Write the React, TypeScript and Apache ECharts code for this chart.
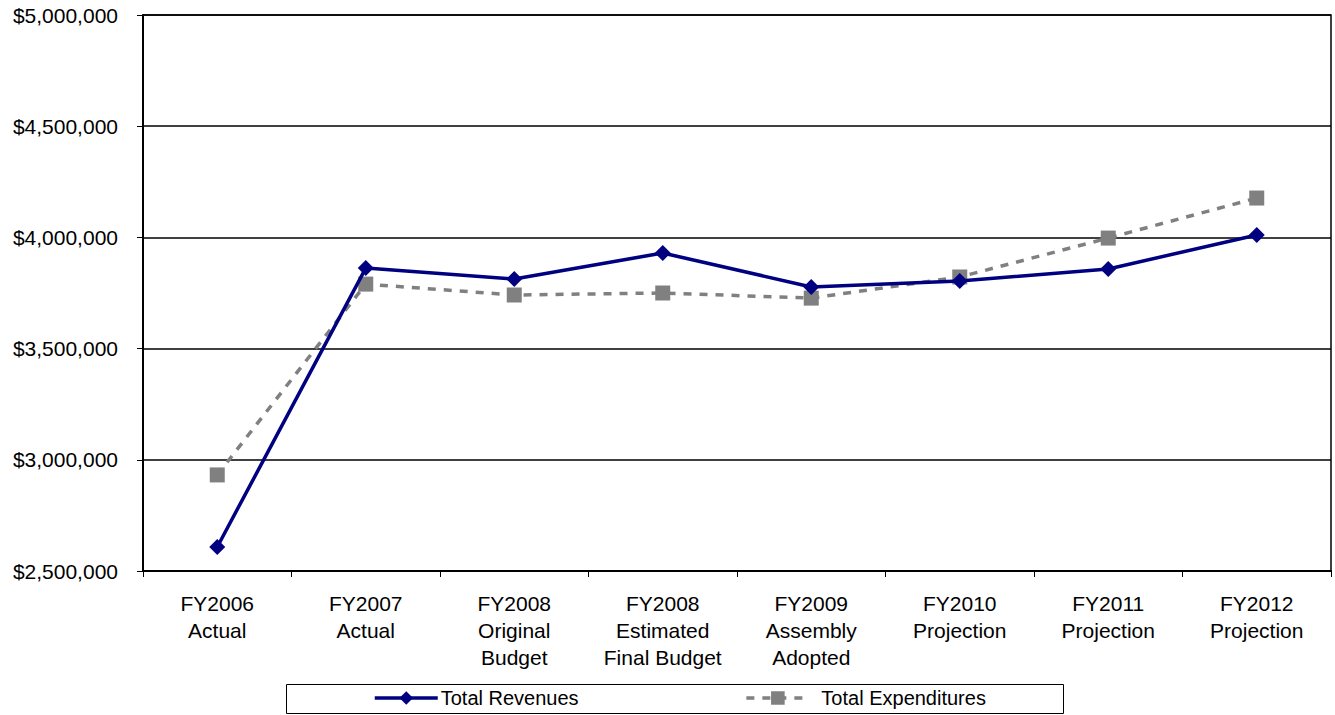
import React, { useEffect, useRef } from "react";
import * as echarts from "echarts";

const categories = [
  "FY2006\nActual",
  "FY2007\nActual",
  "FY2008\nOriginal\nBudget",
  "FY2008\nEstimated\nFinal Budget",
  "FY2009\nAssembly\nAdopted",
  "FY2010\nProjection",
  "FY2011\nProjection",
  "FY2012\nProjection",
];

const totalRevenues = [2608000, 3862000, 3813000, 3930000, 3777000, 3804000, 3858000, 4011000];
const totalExpenditures = [2932000, 3790000, 3741000, 3750000, 3727000, 3822000, 3997000, 4177000];

const yTicks = { min: 2500000, max: 5000000, interval: 500000 };

const FONT = "'Liberation Sans', Arial, sans-serif";

const fmtMoney = (v: number) => "$" + v.toLocaleString("en-US");

export default function App() {
  const ref = useRef<HTMLDivElement>(null);

  useEffect(() => {
    document.body.style.margin = "0";
    document.body.style.overflow = "hidden";
    if (!ref.current) return;
    const chart = echarts.init(ref.current, null, { renderer: "svg" });
    chart.setOption({
      animation: false,
      backgroundColor: "#ffffff",
      grid: {
        left: 143,
        right: 4,
        top: 15,
        bottom: 144,
        show: true,
        borderColor: "#000000",
        borderWidth: 1.5,
        containLabel: false,
      },
      xAxis: {
        type: "category",
        data: categories,
        boundaryGap: true,
        axisLine: { lineStyle: { color: "#000000", width: 2 } },
        axisTick: { show: true, length: 6, lineStyle: { color: "#000000", width: 1 } },
        axisLabel: {
          color: "#000000",
          fontFamily: FONT,
          fontSize: 21,
          lineHeight: 27,
          margin: 19,
          interval: 0,
          align: "center",
        },
      },
      yAxis: {
        type: "value",
        min: yTicks.min,
        max: yTicks.max,
        interval: yTicks.interval,
        axisLine: { show: true, lineStyle: { color: "#000000", width: 2 } },
        axisTick: { show: true, length: 6, lineStyle: { color: "#000000", width: 1 } },
        splitLine: { show: true, lineStyle: { color: "#000000", width: 1.5 } },
        axisLabel: {
          color: "#000000",
          fontFamily: FONT,
          fontSize: 21,
          margin: 25,
          formatter: (v: number) => fmtMoney(v),
        },
      },
      graphic: [
        {
          type: "rect",
          left: 286,
          top: 684,
          shape: { width: 777, height: 29 },
          style: { fill: "#ffffff", stroke: "#000000", lineWidth: 1 },
          z: 0,
        },
      ],
      legend: {
        left: 373,
        top: 688,
        padding: 0,
        itemGap: 166,
        itemWidth: 63,
        itemHeight: 17,
        lineStyle: { width: 3.5 },
        textStyle: { color: "#000000", fontFamily: FONT, fontSize: 20, padding: [0, 0, 0, -2] },
        data: [
          { name: "Total Revenues" },
          { name: "Total Expenditures", textStyle: { padding: [0, 0, 0, 7] } },
        ],
        z: 5,
      },
      series: [
        {
          name: "Total Revenues",
          type: "line",
          data: totalRevenues,
          symbol: "diamond",
          symbolSize: 16,
          itemStyle: { color: "#000080" },
          lineStyle: { color: "#000080", width: 3.5 },
          z: 3,
        },
        {
          name: "Total Expenditures",
          type: "line",
          data: totalExpenditures,
          symbol: "rect",
          symbolSize: 15,
          itemStyle: { color: "#808080" },
          lineStyle: { color: "#808080", width: 3.5, type: [8, 8] },
          z: 2,
        },
      ],
    });
    return () => chart.dispose();
  }, []);

  return <div ref={ref} style={{ width: 1335, height: 715 }} />;
}
